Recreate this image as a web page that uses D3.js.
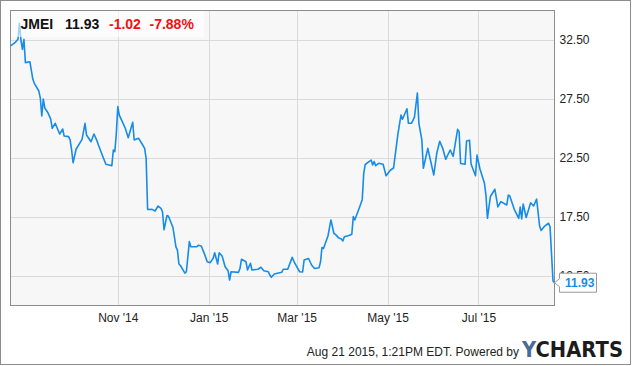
<!DOCTYPE html>
<html>
<head>
<meta charset="utf-8">
<script src="https://cdn.jsdelivr.net/npm/d3@7"></script>
<style>
	body { margin: 0; background: #fff; }
	svg { display: block; font-family: "Liberation Sans", Arial, sans-serif; }
</style>
</head>
<body>
<svg id="chart" width="635" height="366"></svg>
<script>
// JMEI daily close
const dates = [
	"2014-08-21","2014-08-24","2014-08-26","2014-08-27","2014-08-28","2014-08-29","2014-08-30","2014-08-31",
	"2014-09-03","2014-09-05","2014-09-06","2014-09-09","2014-09-10","2014-09-11","2014-09-12","2014-09-13",
	"2014-09-15","2014-09-17","2014-09-18","2014-09-20","2014-09-23","2014-09-25","2014-09-26","2014-09-29",
	"2014-09-30","2014-10-01","2014-10-02","2014-10-04","2014-10-08","2014-10-10","2014-10-11","2014-10-14",
	"2014-10-16","2014-10-18","2014-10-19","2014-10-22","2014-10-24","2014-10-28","2014-10-29","2014-10-30",
	"2014-10-31","2014-11-01","2014-11-02","2014-11-04","2014-11-06","2014-11-08","2014-11-11","2014-11-12",
	"2014-11-15","2014-11-17","2014-11-19","2014-11-20","2014-11-21","2014-11-24","2014-11-26","2014-11-28",
	"2014-11-30","2014-12-01","2014-12-02","2014-12-04","2014-12-05","2014-12-08","2014-12-10","2014-12-11",
	"2014-12-12","2014-12-13","2014-12-16","2014-12-17","2014-12-19","2014-12-20","2014-12-24","2014-12-25",
	"2014-12-27","2014-12-29","2014-12-31","2015-01-02","2015-01-04","2015-01-05","2015-01-07","2015-01-08",
	"2015-01-10","2015-01-12","2015-01-14","2015-01-15","2015-01-16","2015-01-21","2015-01-22","2015-01-23",
	"2015-01-26","2015-01-27","2015-01-29","2015-01-30","2015-02-03","2015-02-05","2015-02-07","2015-02-10",
	"2015-02-11","2015-02-12","2015-02-14","2015-02-19","2015-02-20","2015-02-23","2015-02-26","2015-02-28",
	"2015-03-03","2015-03-05","2015-03-06","2015-03-09","2015-03-11","2015-03-13","2015-03-16","2015-03-17",
	"2015-03-18","2015-03-19","2015-03-22","2015-03-24","2015-03-26","2015-03-27","2015-03-29","2015-03-31",
	"2015-04-01","2015-04-02","2015-04-05","2015-04-07","2015-04-08","2015-04-09","2015-04-12","2015-04-14",
	"2015-04-15","2015-04-16","2015-04-19","2015-04-20","2015-04-21","2015-04-22","2015-04-23","2015-04-25",
	"2015-04-28","2015-04-30","2015-05-03","2015-05-05","2015-05-08","2015-05-10","2015-05-11","2015-05-14",
	"2015-05-15","2015-05-17","2015-05-19","2015-05-21","2015-05-22","2015-05-24","2015-05-25","2015-05-28",
	"2015-06-01","2015-06-03","2015-06-05","2015-06-07","2015-06-09","2015-06-12","2015-06-14","2015-06-17",
	"2015-06-18","2015-06-19","2015-06-22","2015-06-23","2015-06-25","2015-06-26","2015-06-29","2015-06-30",
	"2015-07-02","2015-07-05","2015-07-06","2015-07-07","2015-07-09","2015-07-12","2015-07-14","2015-07-16",
	"2015-07-20","2015-07-21","2015-07-22","2015-07-25","2015-07-28","2015-07-29","2015-07-30","2015-07-31",
	"2015-08-02","2015-08-05","2015-08-07","2015-08-09","2015-08-11","2015-08-12","2015-08-14","2015-08-17",
	"2015-08-18","2015-08-20","2015-08-21"
];
const prices = [
	32.0,32.27,32.56,33.92,32.5,31.71,32.56,30.58,
	30.66,29.17,28.83,28.18,27.58,26.06,27.5,26.74,
	26.36,25.8,25.02,25.44,24.53,24.96,24.36,24.31,
	24.03,23.18,22.1,23.24,24.08,25.44,24.45,23.88,
	24.53,23.97,23.6,22.61,21.97,21.85,23.18,23.03,
	24.59,26.85,26.14,25.58,25.02,24.22,25.53,24.03,
	24.17,23.75,23.32,22.47,18.14,18.15,18.01,18.43,
	18.24,17.92,16.42,17.63,17.57,16.61,14.96,14.7,
	13.52,13.39,12.75,12.86,15.41,14.98,14.98,15.1,
	15.04,14.42,13.71,13.63,14.0,14.47,13.52,14.47,
	14.19,13.29,12.95,12.16,12.86,12.81,13.15,13.92,
	13.71,13.01,13.58,13.01,13.07,13.24,12.95,12.86,
	12.58,12.39,12.67,12.81,13.07,13.07,14.08,13.52,
	12.86,12.84,13.86,13.98,13.43,13.14,13.2,13.69,
	14.92,14.83,15.89,17.25,16.1,16.03,15.75,15.64,
	15.47,15.83,15.93,16.04,17.54,17.25,18.26,18.97,
	21.2,21.95,22.23,22.33,21.91,22.2,21.85,22.05,
	21.97,21.0,21.48,21.65,24.59,26.14,25.78,26.67,
	25.44,25.44,25.95,28.01,25.44,24.03,21.63,23.32,
	21.06,22.9,23.92,23.32,22.39,23.18,22.64,24.93,
	24.73,22.03,21.97,23.94,24.0,21.99,21.0,22.75,
	21.57,20.36,19.36,17.39,19.24,19.85,18.35,18.8,
	18.52,19.36,19.28,18.15,17.39,18.35,17.33,18.6,
	17.46,18.71,18.43,19.01,16.74,16.36,16.68,16.97,
	16.68,12.08,11.93
];
const yTicks = [12.5, 17.5, 22.5, 27.5, 32.5];
const xTicks = ["2014-11-01", "2015-01-01", "2015-03-01", "2015-05-01", "2015-07-01"];
const ticker = "JMEI";
const lastPrice = "11.93";
const change = "-1.02";
const changePct = "-7.88%";
const footer = "Aug 21 2015, 1:21PM EDT.  Powered by";

const parse = d3.timeParse("%Y-%m-%d");
const series = dates.map((d, i) => ({ date: parse(d), value: prices[i] }));

const svg = d3.select("#chart");
const plot = { left: 10.5, top: 10.5, right: 554.5, bottom: 305.5 };

const x = d3.scaleTime()
	.domain([parse("2014-08-21"), parse("2015-08-21")])
	.range([plot.left, plot.right]);
const y = d3.scaleLinear()
	.domain([10, 35])
	.range([plot.bottom, plot.top]);

// outer frame
svg.append("rect")
	.attr("x", 0.5).attr("y", 0.5)
	.attr("width", 630).attr("height", 364)
	.attr("fill", "#fff").attr("stroke", "#8c8c8c");

// plot background
svg.append("rect")
	.attr("x", plot.left).attr("y", plot.top)
	.attr("width", plot.right - plot.left).attr("height", plot.bottom - plot.top)
	.attr("fill", "#f7f7f7");

// gridlines
svg.append("g")
	.selectAll("line.h")
	.data(yTicks)
	.join("line")
	.attr("x1", plot.left).attr("x2", plot.right)
	.attr("y1", d => Math.round(y(d)) + 0.5).attr("y2", d => Math.round(y(d)) + 0.5)
	.attr("stroke", "#dadada");

svg.append("g")
	.selectAll("line.v")
	.data(xTicks.map(parse))
	.join("line")
	.attr("x1", d => Math.round(x(d)) + 0.5).attr("x2", d => Math.round(x(d)) + 0.5)
	.attr("y1", plot.top).attr("y2", plot.bottom)
	.attr("stroke", "#dadada");

// plot border
svg.append("rect")
	.attr("x", plot.left).attr("y", plot.top)
	.attr("width", plot.right - plot.left).attr("height", plot.bottom - plot.top)
	.attr("fill", "none").attr("stroke", "#8c8c8c");

// axes
const yAxis = d3.axisRight(y).tickValues(yTicks).tickSize(0).tickPadding(5).tickFormat(d3.format(".2f"));
svg.append("g")
	.attr("transform", `translate(${plot.right},0)`)
	.call(yAxis)
	.call(g => g.select(".domain").remove())
	.call(g => g.selectAll("text").attr("font-size", 12).attr("fill", "#222").attr("font-family", "Liberation Sans, Arial, sans-serif"));

const xAxis = d3.axisBottom(x).tickValues(xTicks.map(parse)).tickSize(0).tickPadding(8)
	.tickFormat(d3.timeFormat("%b '%y"));
svg.append("g")
	.attr("transform", `translate(0,${plot.bottom})`)
	.call(xAxis)
	.call(g => g.select(".domain").remove())
	.call(g => g.selectAll("text").attr("font-size", 12).attr("fill", "#222").attr("font-family", "Liberation Sans, Arial, sans-serif"));

// price line
const line = d3.line()
	.x(d => x(d.date))
	.y(d => y(d.value));

svg.append("path")
	.datum(series)
	.attr("d", line)
	.attr("fill", "none")
	.attr("stroke", "#168ce8")
	.attr("stroke-width", 1.6)
	.attr("stroke-linejoin", "round");

// title box
svg.append("rect")
	.attr("x", plot.left + 0.5).attr("y", plot.top + 0.5)
	.attr("width", 193).attr("height", 26)
	.attr("fill", "#fff").attr("fill-opacity", 0.6);

const title = svg.append("text")
	.attr("x", 20.5).attr("y", 29)
	.attr("font-size", 14).attr("font-weight", "bold");
title.append("tspan").attr("fill", "#111").text(ticker);
title.append("tspan").attr("x", 65).attr("fill", "#111").text(lastPrice);
title.append("tspan").attr("x", 109).attr("fill", "#ee1111").text(change);
title.append("tspan").attr("x", 149.5).attr("fill", "#ee1111").text(changePct);

// last value flag
const last = series[series.length - 1];
const lx = x(last.date), ly = y(last.value);
const flag = svg.append("g");
flag.append("path")
	.attr("d", `M${lx},${ly} L${lx + 5},${ly - 4} V${ly - 9.5} H${lx + 42} V${ly + 9.5} H${lx + 5} V${ly + 4} Z`)
	.attr("fill", "#fff").attr("stroke", "#999");
flag.append("text")
	.attr("x", lx + 10.5).attr("y", ly + 4.5)
	.attr("font-size", 12).attr("font-weight", "bold").attr("fill", "#168ce8")
	.text(lastPrice);

// footer
svg.append("text")
	.attr("x", 519).attr("y", 356)
	.attr("text-anchor", "end")
	.attr("font-size", 12).attr("fill", "#222")
	.text(footer);

const logo = svg.append("text")
	.attr("x", 522).attr("y", 356.5)
	.attr("font-size", 21).attr("font-weight", "bold")
	.attr("font-family", "'DejaVu Sans', 'Liberation Sans', sans-serif")
	.attr("textLength", 101).attr("lengthAdjust", "spacingAndGlyphs");
logo.append("tspan").attr("fill", "#4c6a96").text("Y");
logo.append("tspan").attr("fill", "#1c1c1c").text("CHARTS");
</script>
</body>
</html>
